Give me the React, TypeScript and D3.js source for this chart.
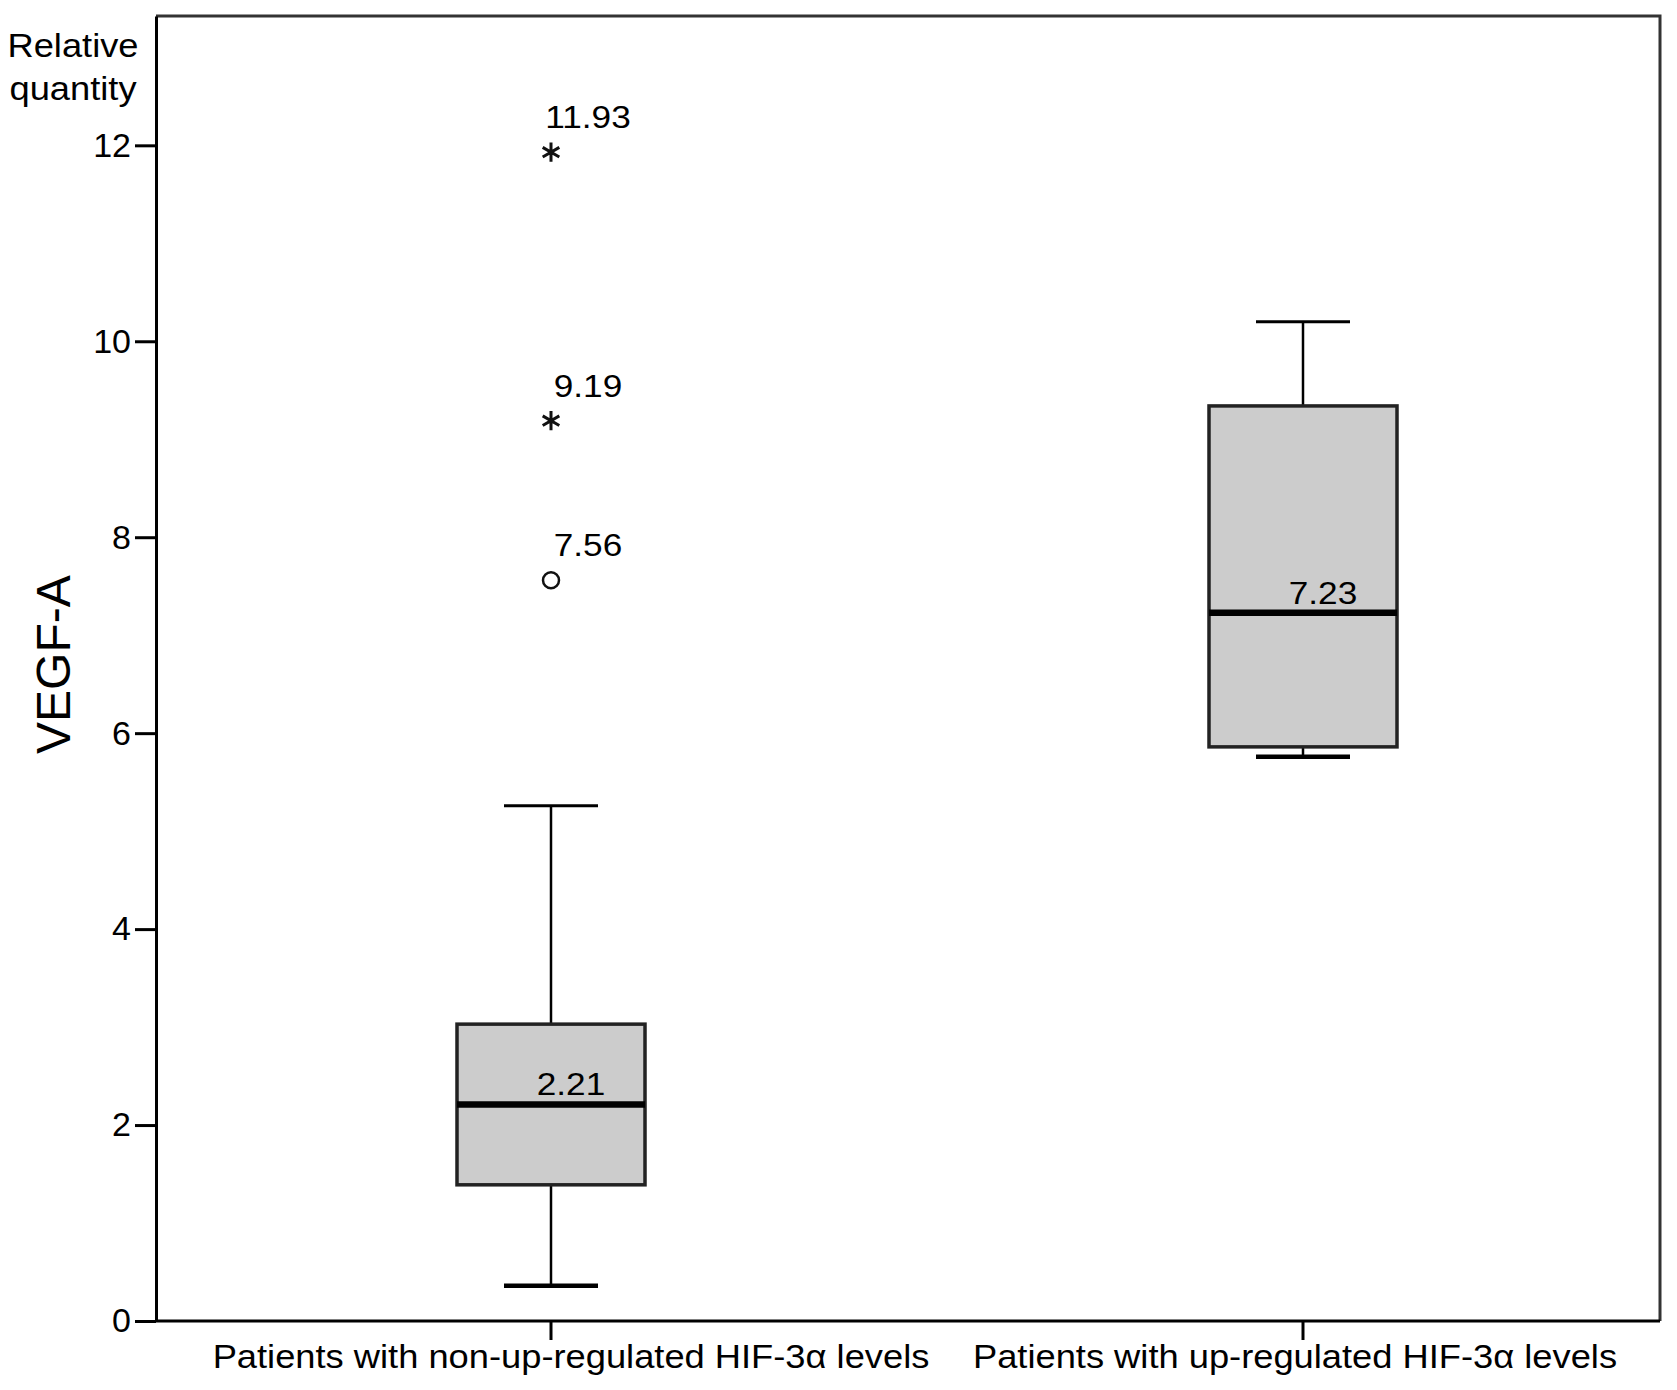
import React, { useEffect, useRef } from 'react';
import * as d3 from 'd3';

// Box plot data
const categories = [
  'Patients with non-up-regulated HIF-3α levels',
  'Patients with up-regulated HIF-3α levels',
];
const whiskerLow = [0.36, 5.76];
const q1 = [1.39, 5.86];
const median = [2.21, 7.23];
const q3 = [3.03, 9.34];
const whiskerHigh = [5.26, 10.2];
const medianLabels = ['2.21', '7.23'];

// Outliers (all in the first group)
const outlierValues = [11.93, 9.19, 7.56];
const outlierLabels = ['11.93', '9.19', '7.56'];
const outlierKinds = ['extreme', 'extreme', 'outlier'];
const outlierGroup = [0, 0, 0];

const yTicks = [0, 2, 4, 6, 8, 10, 12];

const WIDTH = 1677;
const HEIGHT = 1390;
const FONT = '"Liberation Sans", Arial, Helvetica, sans-serif';
const STRETCH = 1.1; // the figure's font is a little wider than Arial

export default function App() {
  const svgRef = useRef<SVGSVGElement>(null);

  useEffect(() => {
    if (!svgRef.current) return;
    const svg = d3.select(svgRef.current);
    svg.selectAll('*').remove();

    const margin = { top: 16, right: 17, bottom: 69, left: 156 };
    const x0 = margin.left;
    const x1 = WIDTH - margin.right;
    const y0 = HEIGHT - margin.bottom;
    const y1 = margin.top;

    const yScale = d3.scaleLinear().domain([0, 13.32]).range([y0, y1]);

    // category centres sit slightly right of the band centres in the original
    const xScale = d3.scaleBand<string>()
      .domain(categories)
      .range([x0 + 19, x1 + 19])
      .paddingInner(0)
      .paddingOuter(0);
    const step = xScale.step();
    const cx = (i: number) => (xScale(categories[i]) || 0) + xScale.bandwidth() / 2;
    const boxW = step * 0.25;
    const capW = boxW / 2;
    const labelShift = [20, -8]; // category labels aren't exactly centred on ticks

    // stretched text helper
    const addText = (
      g: d3.Selection<SVGGElement, unknown, null, undefined>,
      x: number, y: number, txt: string, size: number, anchor = 'middle'
    ) => g.append('text')
      .attr('transform', `translate(${x},${y}) scale(${STRETCH},1)`)
      .attr('text-anchor', anchor)
      .style('font-family', FONT)
      .style('font-size', `${size}px`)
      .style('fill', '#000')
      .text(txt);

    const root = svg.append('g');

    // frame (top and right)
    root.append('path')
      .attr('d', `M${x0},${y1}H${x1}V${y0}`)
      .attr('fill', 'none')
      .attr('stroke', '#333')
      .attr('stroke-width', 3);

    // Y axis
    const yAxis = root.append('g')
      .attr('transform', `translate(${x0},0)`)
      .call(d3.axisLeft(yScale).tickValues(yTicks).tickSize(21).tickPadding(4).tickSizeOuter(0));
    yAxis.select('.domain').attr('stroke', '#000').attr('stroke-width', 3);
    yAxis.selectAll('.tick line').attr('stroke', '#000').attr('stroke-width', 3);
    yAxis.selectAll('.tick text')
      .style('font-family', FONT)
      .style('font-size', '34px')
      .style('fill', '#000');

    // X axis
    const xAxis = root.append('g')
      .attr('transform', `translate(0,${y0})`)
      .call(d3.axisBottom(xScale).tickSize(19).tickSizeOuter(0).tickFormat(() => ''));
    xAxis.select('.domain').attr('d', `M${x0},0H${x1}`).attr('stroke', '#000').attr('stroke-width', 3);
    xAxis.selectAll('.tick line').attr('stroke', '#000').attr('stroke-width', 3);

    categories.forEach((c, i) => addText(root, cx(i) + labelShift[i], y0 + 47, c, 33));

    // boxes
    categories.forEach((_, i) => {
      const g = root.append('g');
      const c = cx(i);
      // whiskers
      g.append('line')
        .attr('x1', c).attr('x2', c)
        .attr('y1', yScale(whiskerHigh[i])).attr('y2', yScale(q3[i]))
        .attr('stroke', '#000').attr('stroke-width', 2.5);
      g.append('line')
        .attr('x1', c).attr('x2', c)
        .attr('y1', yScale(q1[i])).attr('y2', yScale(whiskerLow[i]))
        .attr('stroke', '#000').attr('stroke-width', 2.5);
      g.append('line')
        .attr('x1', c - capW / 2).attr('x2', c + capW / 2)
        .attr('y1', yScale(whiskerHigh[i])).attr('y2', yScale(whiskerHigh[i]))
        .attr('stroke', '#000').attr('stroke-width', 3);
      g.append('line')
        .attr('x1', c - capW / 2).attr('x2', c + capW / 2)
        .attr('y1', yScale(whiskerLow[i])).attr('y2', yScale(whiskerLow[i]))
        .attr('stroke', '#000').attr('stroke-width', 4.5);
      // box
      g.append('rect')
        .attr('x', c - boxW / 2)
        .attr('y', yScale(q3[i]))
        .attr('width', boxW)
        .attr('height', yScale(q1[i]) - yScale(q3[i]))
        .attr('fill', '#cccccc')
        .attr('stroke', '#222')
        .attr('stroke-width', 3.5);
      // median
      g.append('line')
        .attr('x1', c - boxW / 2).attr('x2', c + boxW / 2)
        .attr('y1', yScale(median[i])).attr('y2', yScale(median[i]))
        .attr('stroke', '#000').attr('stroke-width', 6.5);
      addText(g, c + 20, yScale(median[i]) - 9, medianLabels[i], 32);
    });

    // outliers
    const asterisk = d3.symbol().type(d3.symbolAsterisk).size(260);
    outlierValues.forEach((v, i) => {
      const c = cx(outlierGroup[i]);
      const y = yScale(v);
      if (outlierKinds[i] === 'extreme') {
        root.append('path')
          .attr('transform', `translate(${c},${y})`)
          .attr('d', asterisk() || '')
          .attr('fill', 'none')
          .attr('stroke', '#111')
          .attr('stroke-width', 3);
      } else {
        root.append('circle')
          .attr('cx', c).attr('cy', y).attr('r', 8)
          .attr('fill', 'none')
          .attr('stroke', '#111')
          .attr('stroke-width', 2.5);
      }
      addText(root, c + 37, y - 24, outlierLabels[i], 32);
    });

    // axis titles
    addText(root, 73, 57, 'Relative', 33);
    addText(root, 73, 100, 'quantity', 33);
    root.append('text')
      .attr('transform', `translate(70,${yScale(6.7)}) rotate(-90)`)
      .attr('text-anchor', 'middle')
      .style('font-family', FONT)
      .style('font-size', '48px')
      .style('fill', '#000')
      .text('VEGF-A');
  }, []);

  return (
    <svg
      ref={svgRef}
      width={WIDTH}
      height={HEIGHT}
      viewBox={`0 0 ${WIDTH} ${HEIGHT}`}
      style={{ position: 'absolute', left: 0, top: 0, background: '#fff', display: 'block' }}
    />
  );
}
